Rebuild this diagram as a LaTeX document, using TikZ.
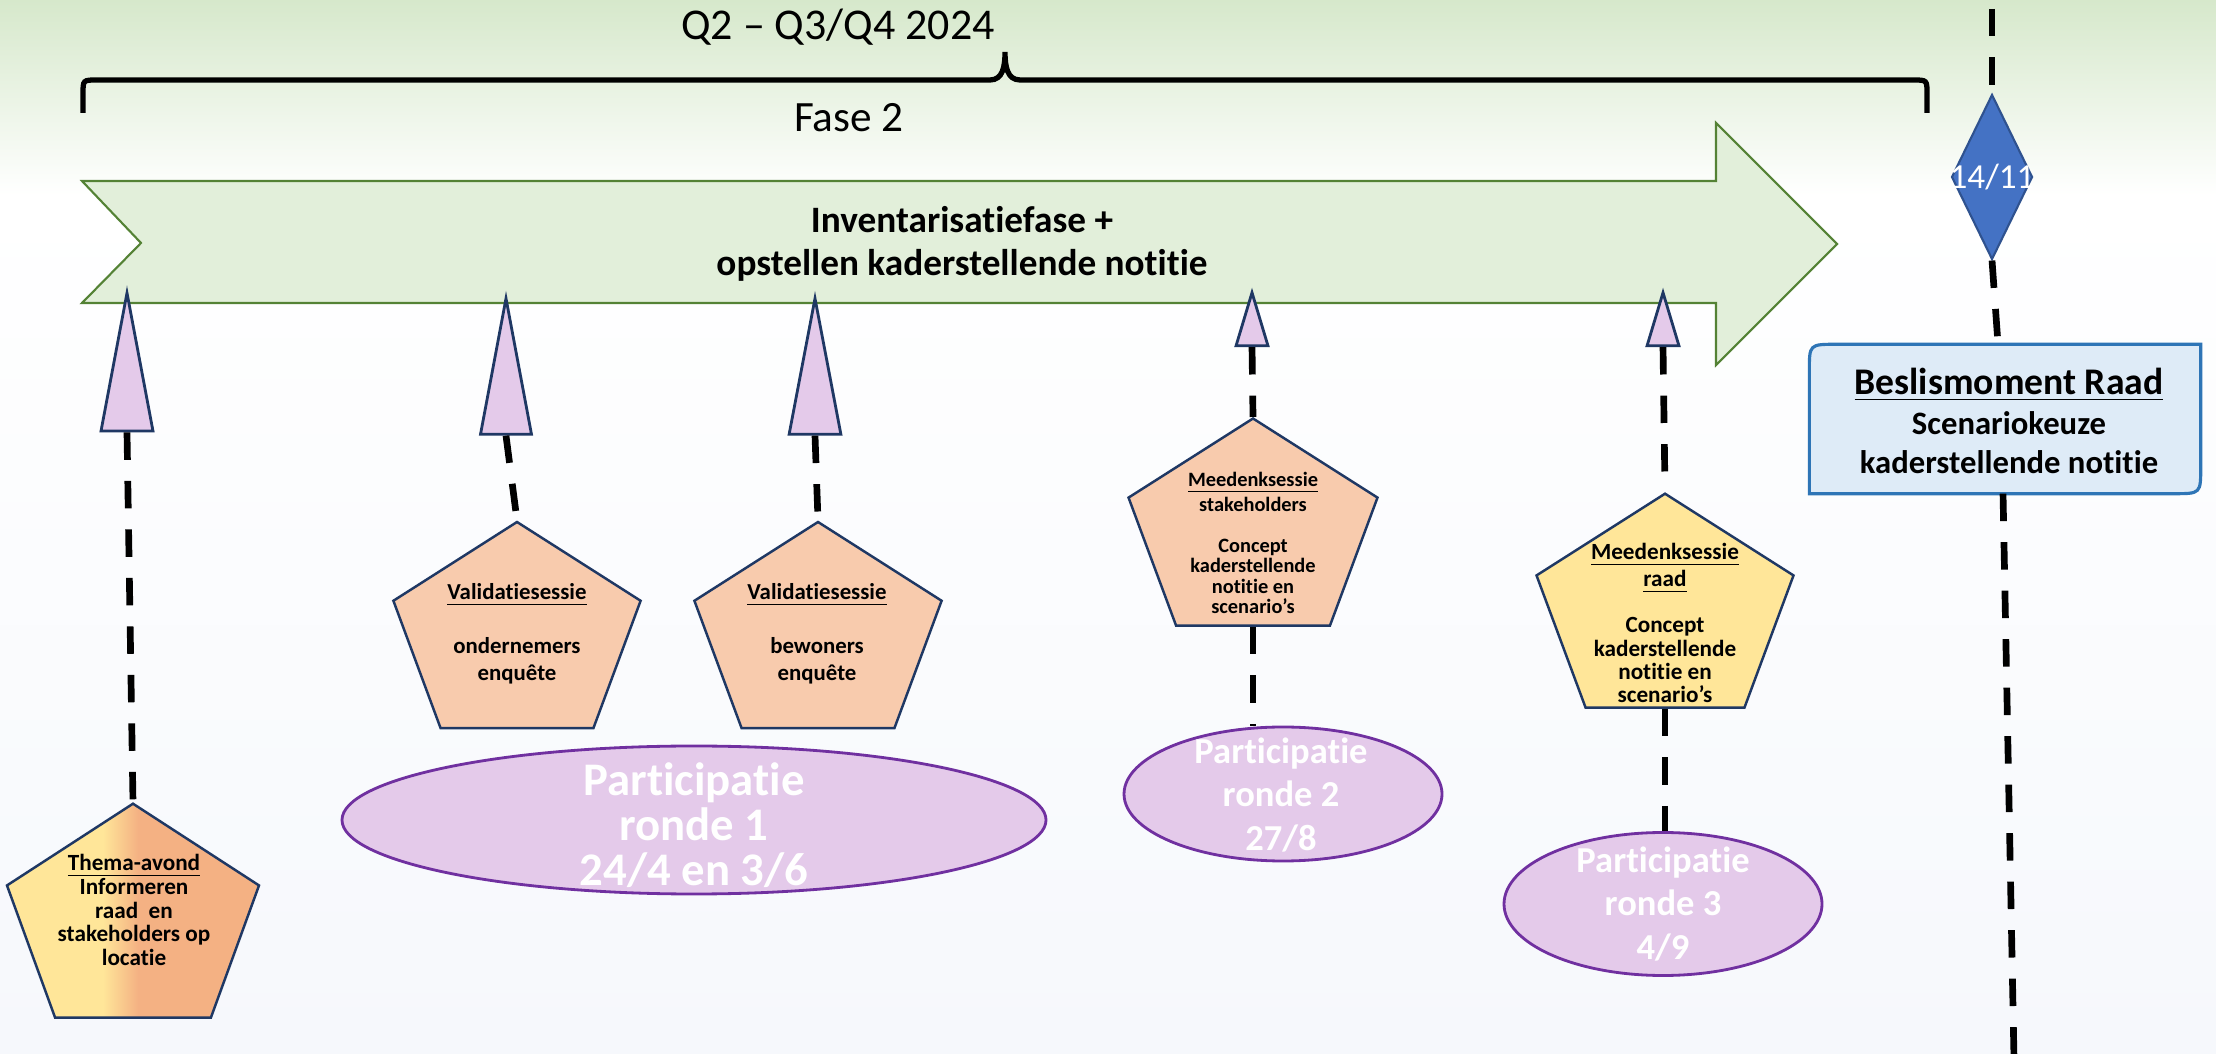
\documentclass[tikz,border=0pt]{standalone}
\usepackage{fontspec}
\setmainfont{Carlito}[Ligatures=NoCommon]
\usetikzlibrary{positioning, shapes.geometric, calc}

\definecolor{bggreen}{HTML}{D6E8CB}
\definecolor{bglow}{HTML}{F6F8FC}
\definecolor{arrowfill}{HTML}{E2EFDA}
\definecolor{arrowline}{HTML}{548235}
\definecolor{lilac}{HTML}{E4CAEA}
\definecolor{darknavy}{HTML}{1F3864}
\definecolor{peach}{HTML}{F8CBAD}
\definecolor{lightyel}{HTML}{FFE699}
\definecolor{salmon}{HTML}{F4B183}
\definecolor{ellline}{HTML}{7030A0}
\definecolor{diafill}{HTML}{4472C4}
\definecolor{dialine}{HTML}{2F528F}
\definecolor{boxfill}{HTML}{DEEBF7}
\definecolor{boxline}{HTML}{2E75B6}

% yellow on the left, salmon on the right
\pgfdeclareverticalshading{themashade}{100bp}{color(0bp)=(salmon); color(49bp)=(salmon); color(56bp)=(lightyel); color(100bp)=(lightyel)}

\begin{document}
\begin{tikzpicture}[x=0.1mm, y=-0.1mm,
  dashline/.style={line width=1.9pt, dash pattern=on 7.8pt off 6pt},
  bigarrow/.style={fill=arrowfill, draw=arrowline, line width=0.6pt},
  tri/.style={regular polygon, regular polygon sides=3, inner sep=0pt,
    fill=lilac, draw=darknavy, line width=0.8pt, transform shape},
  penta/.style={regular polygon, regular polygon sides=5, inner sep=0pt,
    draw=darknavy, line width=0.7pt, transform shape},
  part/.style={ellipse, inner sep=0pt, fill=lilac, draw=ellline, line width=0.8pt},
  ptext/.style 2 args={font=\bfseries\fontsize{#1}{#2}\selectfont, align=center, inner sep=0pt},
  wtext/.style 2 args={ptext={#1}{#2}, text=white},
  beslbox/.style={fill=boxfill, draw=boxline, line width=0.9pt}
]
\useasboundingbox (0,0) rectangle (2216,1054);

% background
\fill[top color=bggreen, bottom color=white] (0,0) rectangle (2216,195);
\fill[top color=white, bottom color=bglow] (0,195) rectangle (2216,1054);

% phase bracket
\draw[line width=1.5pt] (83,113) -- (83,94) .. controls (83,80) .. (97,80) -- (990,80)
  .. controls (1003,80) and (1005,66) .. (1005,52) .. controls (1005,66) and (1007,80) .. (1020,80)
  -- (1913,80) .. controls (1927,80) .. (1927,94) -- (1927,113);
\node[font=\fontsize{12.5pt}{14pt}\selectfont, inner sep=0pt] (period) at (838,27) {Q2 – Q3/Q4 2024};
\node[font=\fontsize{12.3pt}{14pt}\selectfont, inner sep=0pt] (fase) at (849,118) {Fase 2};

% main arrow
\draw[bigarrow] (82,181) -- (1716,181) -- (1716,123) -- (1837,244) -- (1716,365)
  -- (1716,303) -- (82,303) -- (141,243) -- cycle;
\node[ptext={10.6pt}{12.2pt}] (inv) at (962,244) {Inventarisatiefase +\\opstellen kaderstellende notitie};

% input triangles
\node[tri, minimum size=18.4mm, xscale=0.326] (t1) at (127,385) {};
\node[tri, minimum size=18.1mm, xscale=0.325] (t2) at (506,389) {};
\node[tri, minimum size=18.1mm, xscale=0.33] (t3) at (815,389) {};
\node[tri, minimum size=7.07mm, xscale=0.52] (t4) at (1252,328) {};
\node[tri, minimum size=7.07mm, xscale=0.52] (t5) at (1663,328) {};

% sessions
\node[penta, shade, shading=themashade, shading angle=90, minimum size=23.66mm, xscale=1.12] (thema) at (133,922) {};
\node[ptext={6.6pt}{6.8pt}] (thema-t) at (134,910)
  {\underline{Thema-avond}\\Informeren\\raad~ en\\stakeholders op\\locatie};

\node[penta, fill=peach, minimum size=22.8mm, xscale=1.14] (val1) at (517,636) {};
\node[ptext={6.5pt}{7.7pt}] (val1-t) at (517,634)
  {\underline{Validatiesessie}\\[7.7pt]ondernemers\\enquête};

\node[penta, fill=peach, minimum size=22.8mm, xscale=1.14] (val2) at (818,636) {};
\node[ptext={6.5pt}{7.7pt}] (val2-t) at (817,634)
  {\underline{Validatiesessie}\\[7.7pt]bewoners\\enquête};

\node[penta, fill=peach, minimum size=22.9mm, xscale=1.143] (mds) at (1253,533) {};
\node[ptext={5.8pt}{5.8pt}] (mds-t) at (1253,543)
  {\underline{Meedenksessie}\\stakeholders\\[5.8pt]Concept\\kaderstellende\\notitie en\\scenario’s};

\node[penta, fill=lightyel, minimum size=23.66mm, xscale=1.142] (mdr) at (1665,612) {};
\node[ptext={6.6pt}{6.6pt}] (mdr-t) at (1665,623)
  {\underline{Meedenksessie}\\\underline{raad}\\[6.6pt]Concept\\kaderstellende\\notitie en\\scenario’s};

% participation rounds
\node[part, minimum width=70.4mm, minimum height=14.8mm] (e1) at (694,820) {};
\node[wtext={13.3pt}{12.8pt}] (e1-t) at (694,825) {Participatie\\ronde 1\\24/4 en 3/6};
\node[part, minimum width=31.8mm, minimum height=13.4mm] (e2) at (1283,794) {};
\node[wtext={10.4pt}{12.5pt}] (e2-t) at (1281,795) {Participatie\\ronde 2\\27/8};
\node[part, minimum width=31.8mm, minimum height=14.3mm] (e3) at (1663,904) {};
\node[wtext={10.4pt}{12.5pt}] (e3-t) at (1663,904) {Participatie\\ronde 3\\4/9};

% connectors
\draw[dashline] (t1.south) -- (thema.north);
\draw[dashline] (t2.south) -- (val1.north);
\draw[dashline] (t3.south) -- (val2.north);
\draw[dashline] (t4.south) -- (mds.north);
\draw[dashline] (mds.south) -- (mds.south |- e2.north);
\draw[dashline] (t5.south) -- (mdr.north);
\draw[dashline] (mdr.south) -- (mdr.south |- e3.north);

% decision
\coordinate (vtop) at (1992,9);
\coordinate (vbot) at (2014,1060);
\node[diamond, fill=diafill, draw=dialine, line width=0.6pt, inner sep=0pt,
  minimum width=8.1mm, minimum height=16.5mm] (dia) at (1992,177) {};
\node[font=\fontsize{10pt}{11pt}\selectfont, text=white, inner sep=0pt] (dia-t) at (1992,177) {14/11};

\node[minimum width=39mm, minimum height=14.8mm, inner sep=0pt] (besl) at (2005,419) {};
\draw[beslbox] (besl.south west) -- ([yshift=-2.7mm]besl.north west)
  .. controls (besl.north west) .. ([xshift=2.7mm]besl.north west) -- (besl.north east)
  -- ([yshift=2.7mm]besl.south east) .. controls (besl.south east) .. ([xshift=-2.7mm]besl.south east) -- cycle;
\node[ptext={9.3pt}{11.3pt}] (besl-t) at (2009,421)
  {{\fontsize{10.7pt}{12pt}\selectfont\underline{Beslismoment Raad}}\\Scenariokeuze\\kaderstellende notitie};

\draw[dashline] (vtop) -- (dia.north);
\draw[dashline] (dia.south) -- ([xshift=-0.7mm]besl.north);
\draw[dashline] ([xshift=-0.2mm]besl.south) -- (vbot);
\end{tikzpicture}
\end{document}
